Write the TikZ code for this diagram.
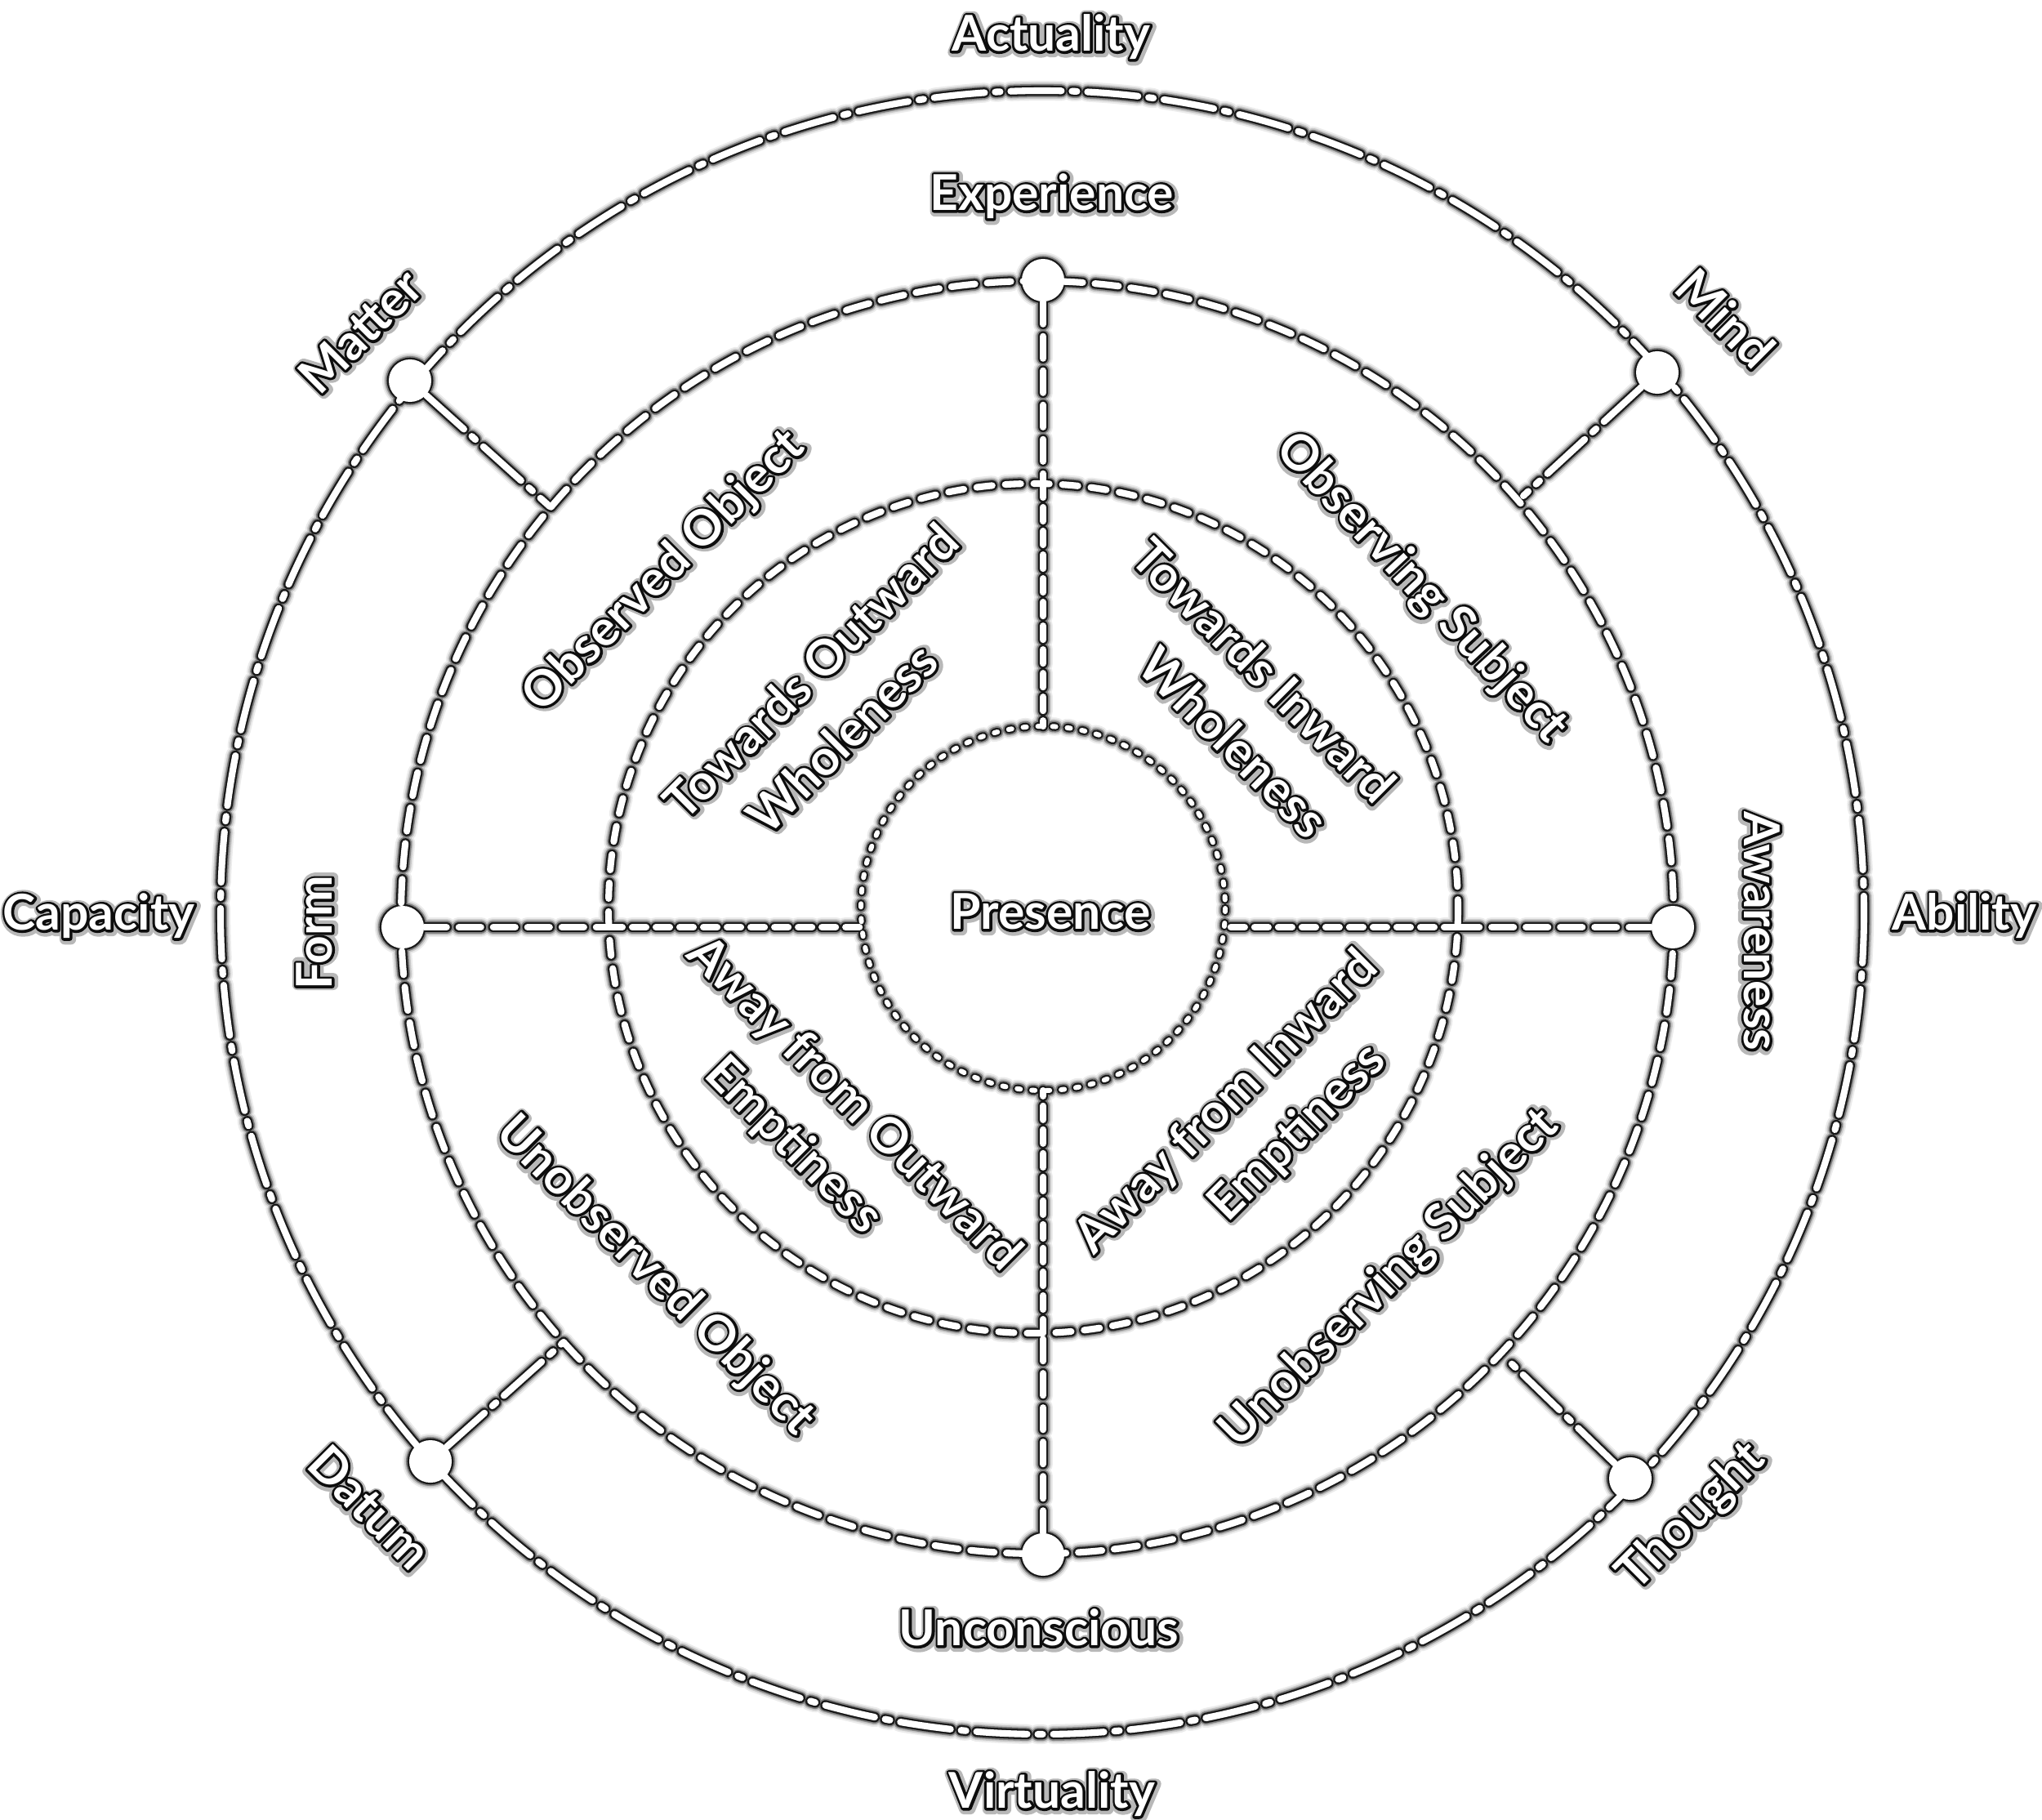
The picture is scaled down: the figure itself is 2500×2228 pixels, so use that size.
\documentclass[tikz,border=0pt]{standalone}
\usepackage{fontspec}
\setmainfont{Lato}

\newdimen\haloextra
% white letters in a dark glow: wide grey stroke, black stroke, white fill
\newcommand\glow[1]{\leavevmode
  \rlap{\kern0.35pt\lower0.35pt\hbox{\special{pdf:literal direct 0.72 G 3.6 w 1 j 1 Tr}#1\special{pdf:literal direct 0 Tr}}}%
  \rlap{\special{pdf:literal direct 0.05 G 1.7 w 1 j 1 Tr}#1\special{pdf:literal direct 0 Tr}}%
  \special{pdf:literal direct 1 g}#1\special{pdf:literal direct 0 g 0 G 0.4 w}}

\tikzset{
  wordnode/.style={font=\bfseries\fontsize{17.2}{20}\selectfont, inner sep=0pt,
                   text height=12.3pt, text depth=0pt},
  hub/.style={circle, minimum size=0.52cm, inner sep=0pt},
  outerring/.style={line cap=round, line width=2.3pt+\haloextra,
                    dash pattern=on 0.62cm off 0.13cm on 0.06cm off 0.13cm},
  hubring/.style={line cap=round, line width=2.3pt+\haloextra,
                  dash pattern=on 0.29cm off 0.15cm},
  midring/.style={line cap=round, line width=2.3pt+\haloextra,
                  dash pattern=on 0.19cm off 0.16cm},
  corering/.style={line cap=round, line width=1.7pt+\haloextra,
                   dash pattern=on 0.04cm off 0.14cm},
  spokeout/.style={line cap=round, line width=2.3pt+\haloextra,
                   dash pattern=on 0.27cm off 0.15cm},
  spokein/.style={line cap=round, line width=2.3pt+\haloextra,
                  dash pattern=on 0.17cm off 0.12cm}
}

\begin{document}
\begin{tikzpicture}[x=0.01cm, y=-0.01cm]
  \useasboundingbox (0,0) rectangle (2500,2228);
  \fill[white] (0,0) rectangle (2500,2228);

  % hubs on the rings
  \node[hub] (hT) at (1277,343) {};
  \node[hub] (hB) at (1277,1903) {};
  \node[hub] (hL) at (493,1135) {};
  \node[hub] (hR) at (2048,1135) {};
  \node[hub] (hMatter) at (502,466) {};
  \node[hub] (hMind) at (2029,456) {};
  \node[hub] (hDatum) at (527,1789) {};
  \node[hub] (hThought) at (1996,1810) {};

  % where the spokes meet the inner rings
  \coordinate (mT) at (1277,592);
  \coordinate (cT) at (1277,889);
  \coordinate (mB) at (1277,1632);
  \coordinate (cB) at (1277,1335);
  \coordinate (mL) at (745,1135);
  \coordinate (cL) at (1055,1135);
  \coordinate (mR) at (1785,1135);
  \coordinate (cR) at (1499,1135);
  \coordinate (kMatter) at (673,620);
  \coordinate (kMind) at (1865,607);
  \coordinate (kDatum) at (690,1643);
  \coordinate (kThought) at (1843,1662);

  % rings and spokes, dark rim first, white last
  \foreach \hw/\hc in {4.6pt/black!8, 3.4pt/black!22, 2.3pt/black!50, 1.3pt/black!90, 0pt/white}{
    \setlength\haloextra{\hw}
    \begin{scope}[color=\hc]
      \draw[outerring] (1276,1117) circle[radius=1006];
      \draw[hubring] (1270,1123) circle[radius=779];
      \draw[midring] (1265,1112) circle[radius=520];
      \draw[corering] (1277,1112) circle[radius=223];
      \draw[spokeout] (hT) -- (mT);
      \draw[spokein] (mT) -- (cT);
      \draw[spokeout] (hB) -- (mB);
      \draw[spokein] (mB) -- (cB);
      \draw[spokeout] (hL) -- (mL);
      \draw[spokein] (mL) -- (cL);
      \draw[spokeout] (hR) -- (mR);
      \draw[spokein] (mR) -- (cR);
      \draw[outerring] (hMatter) -- (kMatter);
      \draw[outerring] (hMind) -- (kMind);
      \draw[outerring] (hDatum) -- (kDatum);
      \draw[outerring] (hThought) -- (kThought);
      \foreach \h in {hT,hB,hL,hR,hMatter,hMind,hDatum,hThought}
        \fill (\h) circle[radius=0.26cm+0.5\haloextra];
    \end{scope}
  }

  % words
  \node[wordnode] (actuality) at (1287,41) {\glow{Actuality}};
  \node[wordnode] (experience) at (1288,236) {\glow{Experience}};
  \node[wordnode] (presence) at (1286,1116) {\glow{Presence}};
  \node[wordnode] (unconscious) at (1272,1993) {\glow{Unconscious}};
  \node[wordnode] (virtuality) at (1288,2192) {\glow{Virtuality}};
  \node[wordnode] (capacity) at (121,1117) {\glow{Capacity}};
  \node[wordnode] (ability) at (2405,1117) {\glow{Ability}};
  \node[wordnode, rotate=90] (form) at (385,1142) {\glow{Form}};
  \node[wordnode, rotate=-90] (awareness) at (2157,1140) {\glow{Awareness}};
  \node[wordnode, rotate=45] (matter) at (441,405) {\glow{Matter}};
  \node[wordnode, rotate=-45] (mind) at (2112,390) {\glow{Mind}};
  \node[wordnode, rotate=-45] (datum) at (453,1845) {\glow{Datum}};
  \node[wordnode, rotate=45] (thought) at (2068,1854) {\glow{Thought}};

  \node[wordnode, rotate=45] (obsobj) at (810,697) {\glow{Observed Object}};
  \node[wordnode, rotate=-47] (obssubj) at (1743,717) {\glow{Observing Subject}};
  \node[wordnode, rotate=-45] (unobsobj) at (805,1559) {\glow{Unobserved Object}};
  \node[wordnode, rotate=45] (unobssubj) at (1698,1562) {\glow{Unobserving Subject}};

  \node[wordnode, rotate=45] (towout) at (993,822) {\glow{Towards Outward}};
  \node[wordnode, rotate=45] (wholeout) at (1031,904) {\glow{Wholeness}};
  \node[wordnode, rotate=-45] (towin) at (1547,821) {\glow{Towards Inward}};
  \node[wordnode, rotate=-45] (wholein) at (1510,909) {\glow{Wholeness}};
  \node[wordnode, rotate=-45] (awayout) at (1048,1349) {\glow{Away from Outward}};
  \node[wordnode, rotate=-45] (emptyout) at (974,1400) {\glow{Emptiness}};
  \node[wordnode, rotate=45] (awayin) at (1499,1347) {\glow{Away from Inward}};
  \node[wordnode, rotate=45] (emptyin) at (1586,1384) {\glow{Emptiness}};
\end{tikzpicture}
\end{document}
